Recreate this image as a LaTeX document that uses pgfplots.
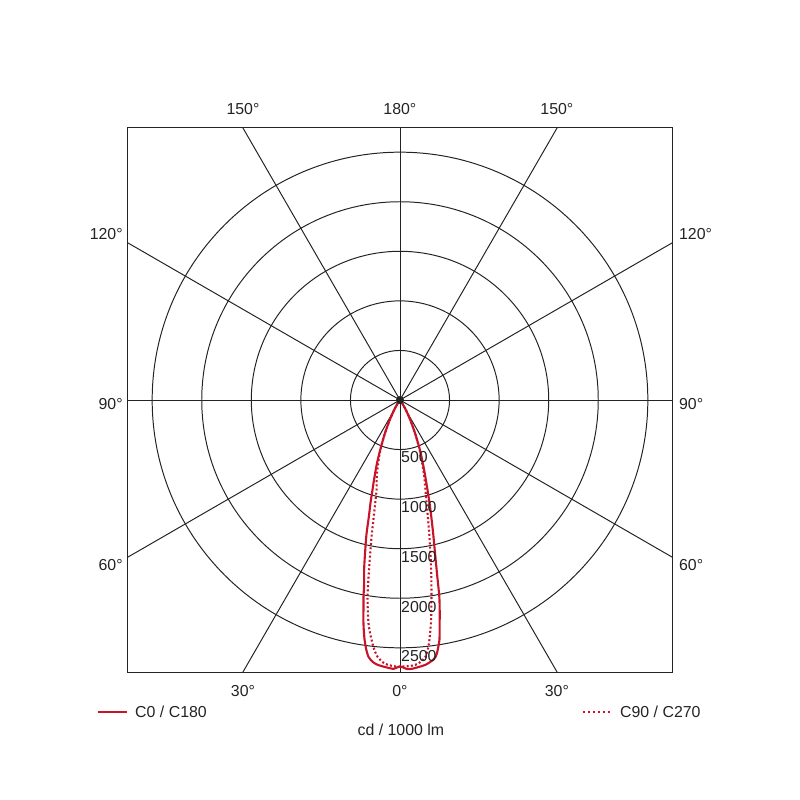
\documentclass[border=0pt]{standalone}
\usepackage{pgfplots}
\pgfplotsset{compat=1.18}
\usepackage{fontspec}
\setmainfont{Liberation Sans}

\definecolor{curvered}{RGB}{200,20,40}
\definecolor{gridcol}{RGB}{35,35,35}
\definecolor{txt}{RGB}{35,35,35}

% luminous intensity (cd/1000 lm), angle in data cs=polar: -90 = 0 deg (down)
% C0/C180 plane
\pgfplotstableread{
ang r
-135 0
-125 40
-120 130
-117 240
-114 390
-111.5 550
-110 680
-109 760
-108 850
-107 950
-106 1080
-105 1210
-104 1400
-103 1560
-102 1740
-101 1900
-100.5 2020
-100 2120
-99.5 2240
-99 2340
-98.4 2446
-97.7 2540
-97 2610
-96 2655
-94.85 2681
-93 2700
-91.4 2713
-90.5 2695
-90 2688
-89.5 2695
-88.5 2715
-87.5 2715
-86 2700
-84.5 2684
-83 2650
-82.1 2615
-81.5 2560
-80.65 2450
-80 2300
-79.5 2200
-78.7 2025
-78 1800
-77 1560
-76 1380
-75 1220
-74 1080
-73 950
-71 750
-68.5 560
-66 390
-63 240
-60 130
-55 40
-45 0
}\czero

% C90/C270 plane
\pgfplotstableread{
ang r
-135 0
-125 40
-120 130
-117 240
-114 390
-111.5 540
-109 680
-107 800
-105.8 870
-104.6 938
-103 1150
-101.75 1411
-100.5 1700
-99.37 2013
-98 2280
-96.77 2436
-95.8 2540
-95 2600
-93.8 2650
-92.7 2674
-91 2688
-90 2690
-88 2686
-86.65 2676
-85.5 2650
-84.33 2603
-83.7 2540
-83 2437
-82 2250
-80.92 2011
-80 1820
-79 1620
-77.85 1412
-77 1270
-76 1130
-74.2 943
-72.5 820
-71 700
-68.5 540
-66 390
-63 240
-60 130
-55 40
-45 0
}\cninety

\begin{document}
\begin{tikzpicture}
\path[use as bounding box] (0,0) rectangle (20,20);
\begin{axis}[
    at={(10cm,10cm)}, anchor=center,
    width=13.63cm, height=13.63cm,
    scale only axis,
    xmin=-2750, xmax=2750,
    ymin=-2750, ymax=2750,
    ticks=none,
    axis line style={gridcol, line width=1.1pt},
    clip=true,
]
% polar grid
\draw[gridcol, line width=0.7pt] (axis cs:0,0) circle [radius=500];
\draw[gridcol, line width=0.7pt] (axis cs:0,0) circle [radius=1000];
\draw[gridcol, line width=0.7pt] (axis cs:0,0) circle [radius=1500];
\draw[gridcol, line width=0.7pt] (axis cs:0,0) circle [radius=2000];
\draw[gridcol, line width=0.7pt] (axis cs:0,0) circle [radius=2500];
\draw[gridcol, line width=0.7pt] (axis cs:0,-2750) -- (axis cs:0,2750);
\draw[gridcol, line width=0.7pt] (axis cs:-2750,0) -- (axis cs:2750,0);
\draw[gridcol, line width=0.7pt] (axis cs:-1587.7,-2750) -- (axis cs:1587.7,2750);
\draw[gridcol, line width=0.7pt] (axis cs:1587.7,-2750) -- (axis cs:-1587.7,2750);
\draw[gridcol, line width=0.7pt] (axis cs:-2750,-1587.7) -- (axis cs:2750,1587.7);
\draw[gridcol, line width=0.7pt] (axis cs:2750,-1587.7) -- (axis cs:-2750,1587.7);

\addplot[data cs=polar, curvered, line width=1.5pt, smooth, tension=0.4]
  table[x=ang, y=r] {\czero};
\addplot[data cs=polar, curvered, line width=1.5pt, smooth, tension=0.4,
  dash pattern=on 1.4pt off 1.6pt]
  table[x=ang, y=r] {\cninety};

\fill[gridcol] (axis cs:0,0) circle [radius=40];
\end{axis}

\begin{scope}[x=0.025cm, y=-0.025cm, shift={(0,20cm)},
  every node/.style={font=\fontsize{11.3}{13}\selectfont, text=txt, inner sep=0pt}]
% angle labels
\node at (243,109) {150°};
\node at (400,109) {180°};
\node at (557,109) {150°};
\node[anchor=east] at (123,234) {120°};
\node[anchor=east] at (123,404) {90°};
\node[anchor=east] at (123,565) {60°};
\node[anchor=west] at (679,234) {120°};
\node[anchor=west] at (679,404) {90°};
\node[anchor=west] at (679,565) {60°};
\node at (243,691) {30°};
\node at (400,691) {0°};
\node at (557,691) {30°};
% radial values
\node[anchor=west] at (401,457) {500};
\node[anchor=west] at (401,507) {1000};
\node[anchor=west] at (401,557) {1500};
\node[anchor=west] at (401,607) {2000};
\node[anchor=west] at (401,656) {2500};
% legend
\draw[curvered, line width=1.5pt] (98,712) -- (127,712);
\node[anchor=west] at (135,712) {C0 / C180};
\draw[curvered, line width=1.5pt, dash pattern=on 1.4pt off 2.2pt] (583,712) -- (613,712);
\node[anchor=east] at (701,712) {C90 / C270};
\node at (401,730) {cd / 1000 lm};
\end{scope}
\end{tikzpicture}
\end{document}
